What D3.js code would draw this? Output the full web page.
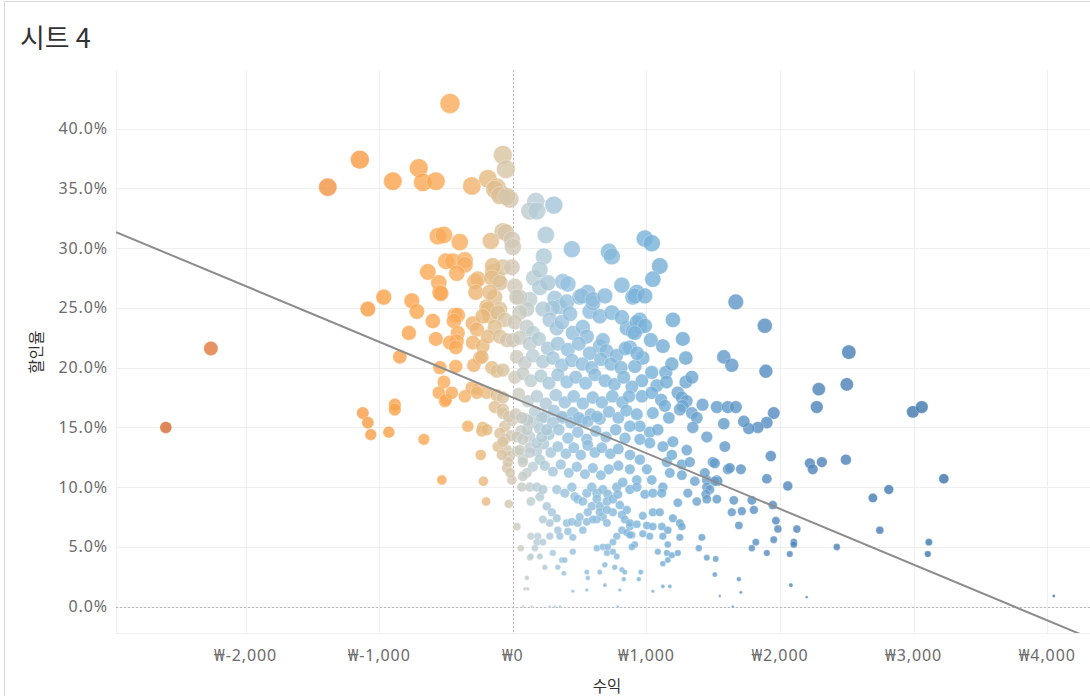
<!DOCTYPE html>
<meta charset="utf-8">
<html>
<head>
    <style>
        body { margin: 0; background: #fff; }
        text.tick { font-family: "Noto Sans", "Noto Sans CJK KR", sans-serif; font-size: 16px; letter-spacing: 0.9px; fill: #6b6b6b; }
        text.axis-title { font-family: "Noto Sans CJK KR", sans-serif; font-size: 15.5px; fill: #333; }
        text.sheet-title { font-family: "Noto Sans CJK KR", sans-serif; font-size: 27px; fill: #333; }
        line.grid { stroke: #efefef; stroke-width: 1px; }
        line.zero { stroke: #b8b8b8; stroke-width: 1px; stroke-dasharray: 2,2; }
    </style>
    <title>시트 4</title>
    <script src="https://cdn.jsdelivr.net/npm/d3@7"></script>
</head>
<body>
<div id="chart"></div>
<script>
    const xTicks = [-2000, -1000, 0, 1000, 2000, 3000, 4000];
    const yTicks = [0, 5, 10, 15, 20, 25, 30, 35, 40];

    // trend line: 할인율(%) = intercept + slope * 수익
    const trendIntercept = 17.5, trendSlope = -0.00466;

    // [수익, 할인율 %]
    const lossPoints = [
        [-2597,15.0],[-2260,21.6],[-1385,35.1],[-1145,37.4],[-898,35.6],[-704,36.7],[-674,35.5],[-576,35.6],[-470,42.1],
        [-561,31.0],[-516,31.1],[-636,28.0],[-554,27.1],[-546,26.3],[-500,28.9],[-966,25.9],[-1085,24.9],[-756,25.6],
        [-718,24.7],[-599,23.9],[-778,22.9],[-576,22.4],[-846,20.9],[-516,18.8],
        [-1123,16.2],[-1085,15.4],[-1063,14.4],[-883,16.9],[-883,16.5],[-928,14.6],[-666,14.0],[-531,10.6],[-554,17.9],[-509,17.2],
        [-307,35.2],[-187,35.8],[-120,35.1],[-82,34.5],[-75,37.8],[-52,36.6],[-135,34.9],[-97,34.4],[-22,34.1],[-45,34.3],
        [-397,30.5],[-165,30.6],[-75,31.4],[-52,31.3],
        [-449,28.9],[-359,29.0],[-359,28.6],[-419,27.9],[-539,26.2],[-284,27.2],[-262,27.4],[-277,26.3],
        [-150,28.0],[-112,27.4],[-75,28.4],[-135,25.9],[-97,24.9],[-195,25.1],[-172,24.3],[-150,28.5],[-157,27.5],[-97,27.1],
        [-434,24.4],[-412,24.4],[-441,23.9],[-412,22.9],[-419,22.2],[-471,22.1],[-427,21.7],
        [-299,23.7],[-269,23.2],[-299,22.1],[-225,21.8],[-247,20.8],[-292,20.2],[-427,20.1],
        [-157,20.0],[-120,19.7],[-75,19.8],[-546,20.0],[-232,20.9],
        [-501,17.3],[-457,17.9],[-359,17.6],[-307,18.3],[-262,18.2],[-195,17.9],[-120,17.7],[-75,17.5],[-269,17.9],
        [-135,16.7],[-75,16.5],[-337,15.1],[-225,15.0],[-232,14.7],[-195,14.8],[-240,12.7],[-220,10.5],[-200,8.8],
        [-172,26.3],[-187,24.9],[-225,24.3],[-112,24.6],[-60,24.0],[-135,23.4],[-187,22.6],[-97,22.6],[-45,22.3],
        [-45,13.1],[-22,12.6],[-45,11.6],[-37,12.1],[-7,10.6],[-30,8.6],[-60,15.1],[-5,15.6],
        [-75,16.2],[-30,15.9],[-97,14.5],[-60,14.0],[-112,13.4],[-82,12.7],[-15,14.3],[-20,11.2],[-75,13.8]
    ];

    const upperGainPoints = [
        [172,33.9],[127,33.1],[180,33.1],[307,33.6],[-7,30.7],[0,30.1],[247,31.1],[232,29.3],[-7,28.4],[157,27.5],
        [202,26.7],[262,27.1],[202,28.2],
        [314,25.8],[352,25.1],[404,25.5],[299,25.0],[225,24.9],[127,25.7],[105,24.9],[52,25.9],
        [15,26.8],[30,25.9],[52,24.6],[15,23.8],[105,23.4],[150,22.9],[0,22.3],
        [277,24.0],[329,23.3],[367,23.8],[449,22.9],[524,23.4],[554,22.6],[651,21.8],[674,22.3],[853,23.3],[898,23.0],
        [950,23.4],[950,24.0],[427,24.5],[576,24.7],[651,24.3],[741,24.6],[816,24.2],
        [374,27.2],[412,27.0],[816,26.9],[898,25.9],[928,26.3],[501,25.9],[561,26.3],[599,25.4],[516,26.0],[599,25.7],[689,26.0],
        [442,29.9],[719,29.7],[741,29.3],[988,30.8],[1040,30.4],[1100,28.5],[1048,27.4],[913,26.0],[988,26.0],
        [1669,25.5],[1886,23.5],[1198,24.0],[928,23.8],[988,23.5],[913,22.9],[1033,22.3],[1123,21.8],[1272,22.4],
        [876,21.7],[973,20.8],[913,20.1],[1295,20.8],[1579,20.9],[1639,20.2],[1894,19.7],[1040,19.6],[1145,19.6],
        [966,18.9],[1078,18.5],[1295,18.8],[1235,17.9],[1265,17.5],[966,17.6],[1040,17.9],[891,18.4],
        [2290,18.2],[2515,21.3],[2500,18.6],[2994,16.3],[3061,16.7],
        [52,22.5],[127,22.0],[195,22.4],[262,21.6],[337,22.0],[412,21.5],[494,22.0],[576,21.2],[700,21.4],[775,21.0],[843,21.6],[930,21.2],
        [30,20.9],[90,20.4],[150,21.0],[225,20.5],[300,20.8],[367,20.2],[442,20.6],[520,20.3],[590,20.0],[660,20.7],[735,20.3],[810,20.0],[1190,20.3],
        [15,19.2],[75,19.5],[135,18.9],[210,19.3],[270,18.7],[337,19.4],[404,18.8],[471,19.2],[545,18.7],[614,19.4],[690,18.9],[760,18.6],
        [830,19.2],[1150,18.8],[1340,19.2],
        [45,17.8],[112,17.2],[180,17.6],[247,17.0],[322,17.7],[389,17.1],[456,17.6],[524,17.0],[598,17.5],[667,17.1],[745,17.6],
        [820,17.1],[870,17.6],[1110,17.3],[1300,17.2],[1420,16.9]
    ];

    const midGainPoints = [
        [22,16.1],[97,15.7],[165,16.3],[240,15.9],[307,16.4],[374,15.8],[449,16.2],[516,15.6],[583,16.1],[652,15.7],[720,16.3],
        [790,15.8],[850,16.4],[928,16.1],[1048,16.2],[1138,16.8],[1168,15.8],[1272,16.8],[1340,16.2],[1377,15.8],[1250,16.5],[1347,15.0],
        [150,15.4],[217,15.8],[300,15.4],[367,15.9],[434,15.4],[494,15.8],[561,15.5],[629,15.9],
        [60,14.7],[127,14.2],[202,14.9],[270,14.4],[344,14.8],[412,14.1],[486,14.6],[553,14.0],[621,14.7],[697,14.2],[770,14.8],[840,14.1],
        [951,15.1],[876,15.1],[1025,14.6],[1085,14.8],[951,14.0],[1025,13.7],[1123,13.4],[1198,13.8],[1302,13.1],[1452,14.2],
        [1587,13.4],[1579,15.3],[1527,16.7],[1609,16.7],[1669,16.7],[2275,16.7],[1953,16.2],[1901,15.4],[1834,15.0],[1766,14.9],
        [1729,15.5],[1931,12.6],
        [127,13.3],[180,13.0],[232,13.6],[284,12.9],[337,13.4],[397,12.8],[456,13.3],[509,12.7],[561,13.5],[614,12.9],[666,13.3],
        [730,12.8],[790,13.2],[30,13.0],[75,12.4],
        [30,14.2],[52,13.1],[75,14.0],[105,14.8],[112,15.6],[67,15.8],[127,12.9],[180,13.7],[217,14.2],[254,14.8],[202,12.3],
        [150,11.7],[105,11.2],[75,10.9],[67,10.0],[127,10.0],[180,10.0],[75,12.1],
        [240,11.8],[300,11.3],[359,11.9],[419,11.2],[479,11.7],[540,11.1],[599,11.6],[659,11.0],[719,11.5],[790,11.8],
        [876,12.7],[951,12.3],[876,11.5],[928,10.6],[1003,11.5],[1153,12.1],[1190,12.7],[1265,11.9],[1325,12.1],[1265,11.0],
        [1175,11.2],[1040,10.6],[1123,10.0],[1497,12.1],[1512,12.0],[1707,11.5],[1609,11.5],[1624,11.6],[1901,10.7],[2058,10.1],
        [1527,10.6],[1452,10.6],[1534,10.5],[2223,12.0],[2245,11.5],[2313,12.1],[2493,12.3],[3226,10.7],[2814,9.8],[2695,9.1]
    ];

    const lowGainPoints = [
        [329,9.8],[389,9.5],[442,10.0],[464,9.2],[486,9.0],[554,9.5],[591,10.0],[629,9.5],[674,9.8],[711,9.4],[778,10.0],
        [823,10.4],[876,9.8],[928,10.0],
        [988,9.4],[1048,9.5],[1115,9.5],[1235,8.7],[1310,9.5],[1377,8.8],[1452,10.0],[1512,10.5],[1437,11.2],[1362,10.5],
        [1474,9.8],[1654,8.9],[1527,9.0],[1445,9.4],[1452,9.0],[1789,8.9],[1804,8.1],[1946,8.5],[1639,7.9],[1714,8.0],
        [1969,7.2],[1984,6.5],[2126,6.5],[1692,6.8],[1953,5.6],[2103,5.4],[2103,5.2],[2425,5.0],[1819,5.4],[1789,4.9],
        [1901,4.5],[2073,4.4],[1415,5.8],[1392,4.9],[1452,4.1],[1519,4.0],[1512,2.7],[1692,2.3],[2081,1.8],[1549,0.9],
        [1707,1.2],[2200,0.8],[1647,0.0],[2747,6.4],[3114,5.4],[3106,4.4],[4049,0.9],
        [973,7.6],[1048,7.9],[1100,7.9],[1198,7.4],[1250,7.0],[1003,6.8],[1048,6.7],[1115,6.7],[1160,6.4],[1265,6.7],
        [1250,5.8],[1123,5.9],[1025,5.9],[973,6.1],[876,6.7],[891,6.0],[913,5.2],[1085,4.6],[1153,4.5],[1190,4.3],[1235,4.5],
        [1160,5.2],[1160,3.9],[1123,3.6],[958,2.9],[943,2.3],[1048,1.3],[1123,1.7],[1175,1.7],
        [135,8.8],[202,9.2],[254,8.4],[225,9.8],[292,7.9],[329,7.4],[277,7.0],[337,6.4],[225,7.3],
        [524,8.8],[591,8.4],[629,9.0],[651,8.4],[704,8.8],[749,9.0],[786,9.4],[801,8.5],[853,8.1],[816,7.7],[749,7.9],
        [674,7.5],[629,7.3],[704,7.0],
        [277,5.9],[352,5.9],[412,6.3],[449,5.8],[449,4.6],[404,7.0],[442,7.1],[486,7.0],[524,6.4],[554,7.1],[599,7.3],
        [501,7.5],[561,7.9],[651,7.9],[704,8.1],
        [135,5.9],[187,5.9],[180,5.4],[225,5.4],[165,4.9],[299,4.5],[367,3.9],[389,3.9],[202,4.2],[127,4.1],[240,3.3],
        [337,3.3],[382,2.8],
        [554,2.9],[561,2.4],[651,2.9],[689,3.5],[704,4.5],[749,4.6],[778,4.2],[763,3.3],[816,3.1],[838,2.9],[831,2.3],
        [801,1.4],[689,1.8],[554,1.4],[449,1.3],
        [629,4.9],[674,5.0],[711,5.0],[749,5.4],[778,5.9],[816,6.4],[853,6.2],[876,6.0],[891,5.0],[838,7.3],[876,7.0],[928,6.9],
        [30,6.7],[60,4.9],[135,4.2],[105,2.4],[90,1.5],[112,1.5],
        [277,0.0],[314,0.0],[352,0.0],[75,0.0],[142,0.0],[786,0.0]
    ];

    // colour stops for 수익 (orange = loss, blue = gain)
    const colorStops = [-4050, -2600, -2260, -1000, -400, -150, 0, 150, 400, 1000, 2000, 3000, 4050];
    const colorValues = ["#c9582a", "#d56830", "#e2773b", "#faa046", "#faac5c", "#e2bd88", "#d1c8b6",
                         "#bacdd3", "#95c0dd", "#79b2d8", "#5088bd", "#3f76ad", "#2f679f"];

    const W = 1090, H = 696;
    const plot = {left: 116, right: 1090, top: 70, bottom: 633};

    const svg = d3.select("#chart").append("svg")
        .attr("width", W)
        .attr("height", H);

    const x = d3.scaleLinear().domain([-2970, 4320]).range([plot.left, plot.right]);
    const y = d3.scaleLinear().domain([-2.2, 44.9]).range([plot.bottom, plot.top]);
    const r = d3.scaleSqrt().domain([0, 42]).range([0, 10]);
    const color = d3.scaleLinear().domain(colorStops).range(colorValues).clamp(true);

    // sheet frame
    svg.append("path")
        .attr("d", "M4.5," + H + "V1.5H" + W)
        .attr("fill", "none")
        .attr("stroke", "#d6d6d6");

    svg.append("text")
        .attr("class", "sheet-title")
        .attr("x", 20)
        .attr("y", 48)
        .text("시트 4");

    // grid
    svg.selectAll(".vgrid")
        .data(xTicks)
        .enter().append("line")
        .attr("class", "grid")
        .attr("x1", d => Math.round(x(d)) + 0.5)
        .attr("x2", d => Math.round(x(d)) + 0.5)
        .attr("y1", plot.top)
        .attr("y2", plot.bottom);

    svg.selectAll(".hgrid")
        .data(yTicks)
        .enter().append("line")
        .attr("class", "grid")
        .attr("x1", plot.left)
        .attr("x2", plot.right)
        .attr("y1", d => Math.round(y(d)) + 0.5)
        .attr("y2", d => Math.round(y(d)) + 0.5);

    svg.append("line").attr("class", "grid")
        .attr("x1", plot.left + 0.5).attr("x2", plot.left + 0.5)
        .attr("y1", plot.top).attr("y2", plot.bottom);
    svg.append("line").attr("class", "grid")
        .attr("x1", plot.left).attr("x2", plot.right)
        .attr("y1", plot.bottom + 0.5).attr("y2", plot.bottom + 0.5);

    // zero lines
    svg.append("line").attr("class", "zero")
        .attr("x1", Math.round(x(0)) + 0.5).attr("x2", Math.round(x(0)) + 0.5)
        .attr("y1", plot.top).attr("y2", plot.bottom);
    svg.append("line").attr("class", "zero")
        .attr("x1", plot.left).attr("x2", plot.right)
        .attr("y1", Math.round(y(0)) + 0.5).attr("y2", Math.round(y(0)) + 0.5);

    // tick labels (plain hyphen as minus, like the original)
    const won = d3.formatLocale({decimal: ".", thousands: ",", grouping: [3], currency: ["₩", ""], minus: "-"}).format(",");
    svg.selectAll(".xlabel")
        .data(xTicks)
        .enter().append("text")
        .attr("class", "tick")
        .attr("x", d => x(d))
        .attr("y", 661)
        .style("text-anchor", "middle")
        .text(d => "₩" + won(d));

    svg.selectAll(".ylabel")
        .data(yTicks)
        .enter().append("text")
        .attr("class", "tick")
        .attr("x", 108)
        .attr("y", d => y(d) + 5.5)
        .style("text-anchor", "end")
        .text(d => d.toFixed(1) + "%");

    svg.append("text")
        .attr("class", "axis-title")
        .attr("x", (plot.left + plot.right) / 2 + 4)
        .attr("y", 692)
        .style("text-anchor", "middle")
        .text("수익");

    svg.append("text")
        .attr("class", "axis-title")
        .attr("transform", "translate(42,352) rotate(-90)")
        .style("text-anchor", "middle")
        .text("할인율");

    // marks
    const points = lossPoints.concat(upperGainPoints, midGainPoints, lowGainPoints);

    svg.append("clipPath").attr("id", "plot-clip")
        .append("rect")
        .attr("x", plot.left).attr("y", plot.top)
        .attr("width", plot.right - plot.left).attr("height", plot.bottom - plot.top);

    const marks = svg.append("g").attr("clip-path", "url(#plot-clip)");

    marks.selectAll(".dot")
        .data(points)
        .enter().append("circle")
        .attr("class", "dot")
        .attr("cx", d => x(d[0]))
        .attr("cy", d => y(d[1]))
        .attr("r", d => Math.max(1.4, r(d[1])))
        .attr("fill", d => color(d[0]))
        .attr("fill-opacity", 0.8)
        .attr("stroke", "#fff")
        .attr("stroke-opacity", 0.35)
        .attr("stroke-width", 0.8);

    const trendX = x.domain();
    marks.append("line")
        .attr("x1", x(trendX[0]))
        .attr("y1", y(trendIntercept + trendSlope * trendX[0]))
        .attr("x2", x(trendX[1]))
        .attr("y2", y(trendIntercept + trendSlope * trendX[1]))
        .attr("stroke", "#8c8c8c")
        .attr("stroke-width", 2);
</script>
</body>
</html>
